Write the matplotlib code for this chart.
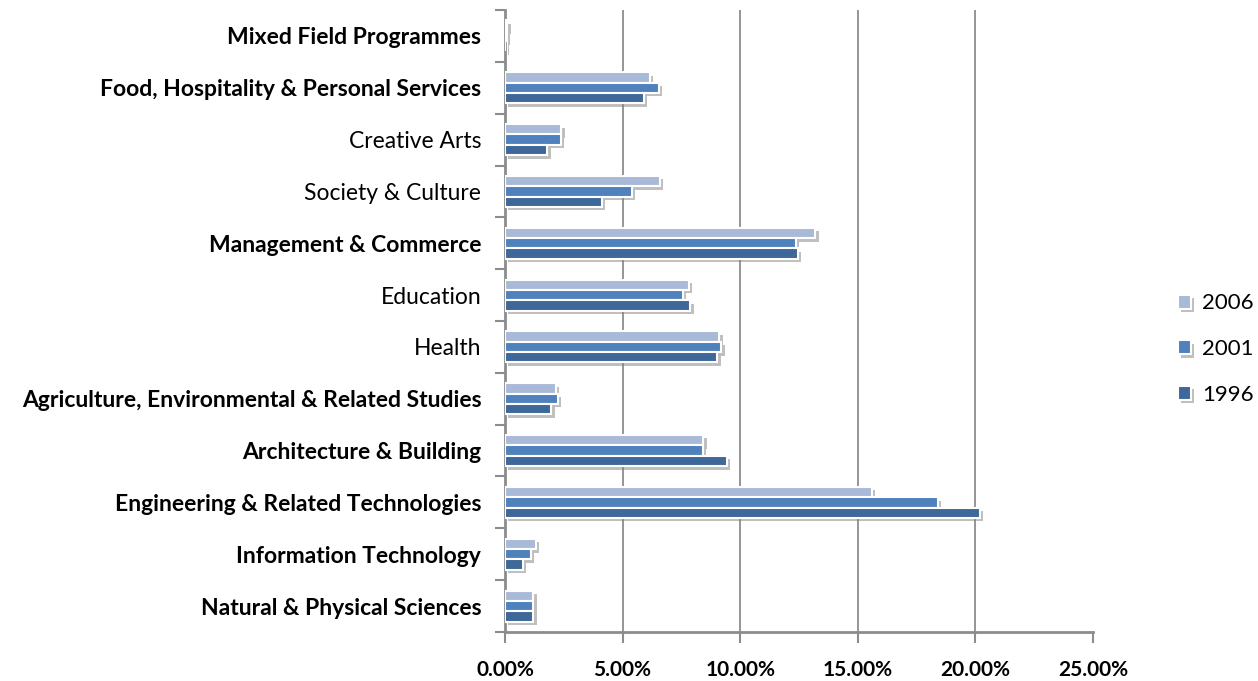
import numpy as np
import matplotlib
matplotlib.use("Agg")
import matplotlib.pyplot as plt
import matplotlib.patheffects as pe
from matplotlib.ticker import FuncFormatter, FixedLocator

# ---- data (bottom to top) ----
categories = [
    'Natural & Physical Sciences',
    'Information Technology',
    'Engineering & Related Technologies',
    'Architecture & Building',
    'Agriculture, Environmental & Related Studies',
    'Health',
    'Education',
    'Management & Commerce',
    'Society & Culture',
    'Creative Arts',
    'Food, Hospitality & Personal Services',
    'Mixed Field Programmes',
]
bold_labels = [True, True, True, True, True, False, False, True, False, False, True, True]

y2006 = [1.20, 1.30, 15.60, 8.43, 2.17, 9.12, 7.82, 13.20, 6.58, 2.39, 6.16, 0.10]
y2001 = [1.20, 1.10, 18.40, 8.40, 2.25, 9.19, 7.56, 12.37, 5.39, 2.37, 6.54, 0.05]
y1996 = [1.20, 0.76, 20.18, 9.42, 1.96, 9.03, 7.88, 12.46, 4.12, 1.79, 5.90, 0.02]

years = ['2006', '2001', '1996']
colors = ['#A9B9D8', '#4F81BD', '#3E6899']

plt.rcParams['font.family'] = ['Lato', 'DejaVu Sans']

fig = plt.figure(figsize=(12.58, 6.81), dpi=100)
ax = fig.add_axes([0.4014, 0.072, 0.4674, 0.9133])

y = np.arange(len(categories))
h = 0.2
shadow = [pe.SimplePatchShadow(offset=(2.5, -2.5), shadow_rgbFace='#808080', alpha=0.5), pe.Normal()]

for vals, off, col, lab in zip([y2006, y2001, y1996], [h, 0, -h], colors, years):
    bars = ax.barh(y + off, vals, height=h, color=col, edgecolor='white',
                   linewidth=1.5, label=lab, zorder=3)
    for b in bars:
        b.set_path_effects(shadow)

ax.set_xlim(0, 25)
ax.set_ylim(-0.5, len(categories) - 0.5)

ax.set_xticks([0, 5, 10, 15, 20, 25])
ax.xaxis.set_major_formatter(FuncFormatter(lambda v, p: '%.2f%%' % v))
ax.tick_params(axis='x', length=8, width=1.5, color='#8C8C8C', pad=12, labelsize=15)
for t in ax.get_xticklabels():
    t.set_fontweight('bold')

ax.set_yticks(y)
ax.set_yticklabels(categories, fontsize=16.5)
for t, b in zip(ax.get_yticklabels(), bold_labels):
    if b:
        t.set_fontweight('bold')
ax.tick_params(axis='y', which='major', length=0, pad=17)
ax.yaxis.set_minor_locator(FixedLocator(np.arange(-0.5, len(categories), 1.0)))
ax.tick_params(axis='y', which='minor', length=7, width=1.5, color='#8C8C8C')

for x in [5, 10, 15, 20]:
    ax.axvline(x, color='#8C8C8C', linewidth=1.3, zorder=1)

for s in ['top', 'right']:
    ax.spines[s].set_visible(False)
for s in ['left', 'bottom']:
    ax.spines[s].set_color('#8C8C8C')
    ax.spines[s].set_linewidth(2)

leg = ax.legend(loc='center left', bbox_to_anchor=(1.11, 0.455), frameon=False,
                fontsize=16, handlelength=0.6, handleheight=0.6,
                handletextpad=0.5, labelspacing=1.15)

plt.savefig('out.png', dpi=100)
